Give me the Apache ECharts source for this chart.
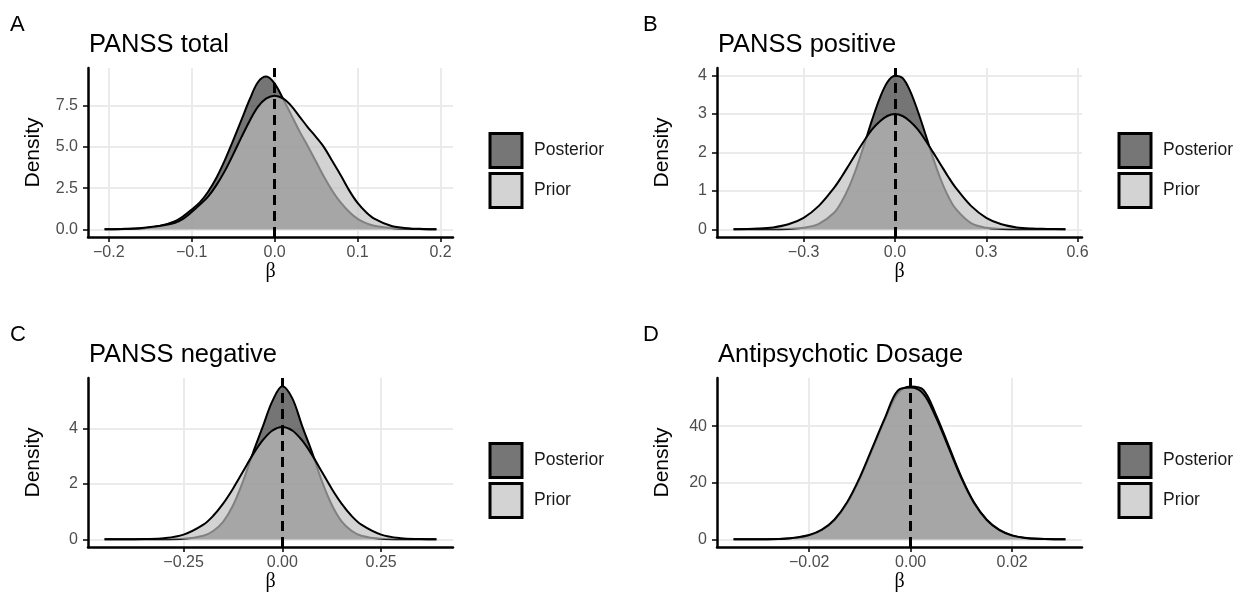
<!DOCTYPE html>
<html><head><meta charset="utf-8">
<script src="https://cdn.jsdelivr.net/npm/echarts@6/dist/echarts.min.js"></script>
<style>html,body{margin:0;padding:0;background:#fff;} #c{width:1246px;height:601px;}</style>
</head><body><div id="c"></div>
<script>
// ---------- data ----------
const panelLetters = ['A', 'B', 'C', 'D'];
const panelTitles = ['PANSS total', 'PANSS positive', 'PANSS negative', 'Antipsychotic Dosage'];
const seriesNames = ['Posterior', 'Prior'];
const xAxisTitle = 'β';
const yAxisTitle = 'Density';

// A: PANSS total
const aX = [-0.205,-0.18,-0.16,-0.14,-0.12,-0.11,-0.10,-0.09,-0.08,-0.07,-0.06,-0.05,-0.04,-0.03,-0.02,-0.01,0.00,0.01,0.02,0.03,0.04,0.05,0.06,0.07,0.08,0.09,0.10,0.11,0.12,0.14,0.16,0.18,0.195];
const aPost = [0.00,0.02,0.06,0.18,0.50,0.80,1.20,1.65,2.30,3.15,4.20,5.40,6.65,7.90,8.95,9.28,8.85,7.95,6.95,5.95,5.05,4.10,3.15,2.30,1.60,1.05,0.63,0.38,0.22,0.08,0.03,0.01,0.00];
const aPrior = [0.00,0.03,0.08,0.20,0.40,0.65,1.05,1.50,2.00,2.70,3.55,4.55,5.60,6.60,7.45,7.95,8.12,7.95,7.50,6.85,6.20,5.60,4.95,4.10,3.25,2.35,1.60,1.05,0.65,0.22,0.07,0.02,0.00];
const aXTicks = [-0.2, -0.1, 0, 0.1, 0.2];
const aXTickLabels = ['\u22120.2', '\u22120.1', '0.0', '0.1', '0.2'];
const aYTicks = [0, 2.5, 5, 7.5];
const aYTickLabels = ['0.0', '2.5', '5.0', '7.5'];

// B: PANSS positive
const bX = [-0.53,-0.45,-0.40,-0.35,-0.30,-0.25,-0.20,-0.175,-0.15,-0.125,-0.10,-0.075,-0.05,-0.025,0,0.025,0.05,0.075,0.10,0.125,0.15,0.175,0.20,0.25,0.30,0.35,0.40,0.45,0.50,0.56];
const bPost = [0,0,0,0.01,0.04,0.14,0.43,0.72,1.12,1.63,2.23,2.85,3.41,3.83,4.00,3.94,3.60,3.08,2.48,1.86,1.31,0.86,0.53,0.16,0.04,0.01,0,0,0,0];
const bPrior = [0.00,0.02,0.05,0.13,0.30,0.61,1.08,1.37,1.69,2.01,2.32,2.60,2.81,2.95,3.00,2.95,2.81,2.60,2.32,2.01,1.69,1.37,1.08,0.61,0.30,0.13,0.05,0.02,0.01,0.00];
const bXTicks = [-0.3, 0, 0.3, 0.6];
const bXTickLabels = ['\u22120.3', '0.0', '0.3', '0.6'];
const bYTicks = [0, 1, 2, 3, 4];
const bYTickLabels = ['0', '1', '2', '3', '4'];

// C: PANSS negative
const cX = [-0.45,-0.40,-0.35,-0.30,-0.25,-0.20,-0.175,-0.15,-0.125,-0.10,-0.075,-0.05,-0.025,0,0.025,0.05,0.075,0.10,0.125,0.15,0.175,0.20,0.25,0.30,0.35,0.39];
const cPost = [0,0,0,0.005,0.02,0.13,0.30,0.63,1.22,2.08,3.10,4.05,5.00,5.53,5.10,4.10,3.15,2.10,1.25,0.65,0.31,0.13,0.02,0.005,0,0];
const cPrior = [0.00,0.00,0.01,0.04,0.17,0.53,0.85,1.29,1.83,2.44,3.05,3.57,3.93,4.06,3.93,3.57,3.05,2.44,1.83,1.29,0.85,0.53,0.17,0.04,0.01,0.00];
const cXTicks = [-0.25, 0, 0.25];
const cXTickLabels = ['\u22120.25', '0.00', '0.25'];
const cYTicks = [0, 2, 4];
const cYTickLabels = ['0', '2', '4'];

// D: Antipsychotic Dosage
const dX = [-0.0349,-0.03,-0.025,-0.0225,-0.02,-0.0175,-0.015,-0.0125,-0.01,-0.0075,-0.005,-0.0025,0,0.0025,0.005,0.0075,0.01,0.0125,0.015,0.0175,0.02,0.0225,0.025,0.03,0.0305];
const dPost = [0,0.02,0.20,0.60,1.40,3.20,6.80,12.8,21.5,32.0,42.6,51.6,54.0,52.8,44.0,33.0,22.0,13.0,6.9,3.3,1.4,0.55,0.18,0.01,0];
const dPrior = [0,0.03,0.22,0.65,1.50,3.40,7.00,13.2,22.0,32.6,43.2,52.6,53.6,51.4,43.0,32.3,21.6,12.8,6.8,3.2,1.3,0.50,0.16,0.01,0];
const dXTicks = [-0.02, 0, 0.02];
const dXTickLabels = ['\u22120.02', '0.00', '0.02'];
const dYTicks = [0, 20, 40];
const dYTickLabels = ['0', '20', '40'];

// ---------- layout / style ----------
const panels = [
  {x: aX, post: aPost, prior: aPrior, xt: aXTicks, xl: aXTickLabels, yt: aYTicks, yl: aYTickLabels, xr: [-0.225, 0.215], yr: [-0.467, 9.8]},
  {x: bX, post: bPost, prior: bPrior, xt: bXTicks, xl: bXTickLabels, yt: bYTicks, yl: bYTickLabels, xr: [-0.5845, 0.6145], yr: [-0.2, 4.2]},
  {x: cX, post: cPost, prior: cPrior, xt: cXTicks, xl: cXTickLabels, yt: cYTicks, yl: cYTickLabels, xr: [-0.492, 0.432], yr: [-0.2775, 5.8275]},
  {x: dX, post: dPost, prior: dPrior, xt: dXTicks, xl: dXTickLabels, yt: dYTicks, yl: dYTickLabels, xr: [-0.03817, 0.03377], yr: [-2.715, 57.0]}
];
const gridPos = [
  {left: 88, top: 68}, {left: 717, top: 68}, {left: 88, top: 378}, {left: 717, top: 378}
];
const GW = 365, GH = 169;
const SANS = "'Liberation Sans', Arial, Helvetica, sans-serif";
const POST_FILL = 'rgba(51,51,51,0.68)';
const PRIOR_FILL = 'rgba(190,190,190,0.68)';

function labelFor(ticks, labels) {
  return function (v) {
    for (let i = 0; i < ticks.length; i++) if (Math.abs(v - ticks[i]) < 1e-9) return labels[i];
    return '';
  };
}

const option = {
  backgroundColor: '#fff',
  animation: false,
  title: [],
  grid: [],
  xAxis: [],
  yAxis: [],
  legend: [],
  series: []
};

panels.forEach((p, i) => {
  const g = gridPos[i];
  option.grid.push({left: g.left, top: g.top, width: GW, height: GH, containLabel: false});
  option.title.push({
    text: panelLetters[i], left: g.left - (i % 2 === 0 ? 78 : 74), top: g.top - 54,
    padding: 0, textStyle: {fontFamily: SANS, fontSize: 22, fontWeight: 'normal', color: '#000'}
  });
  option.title.push({
    text: panelTitles[i], left: g.left + 1, top: g.top - 36,
    padding: 0, textStyle: {fontFamily: SANS, fontSize: 25.5, fontWeight: 'normal', color: '#000'}
  });
  option.xAxis.push({
    type: 'value', gridIndex: i, min: p.xr[0], max: p.xr[1],
    name: xAxisTitle, nameLocation: 'middle', nameGap: 23,
    nameTextStyle: {fontFamily: "'Liberation Serif', 'DejaVu Serif', serif", fontSize: 20, color: '#000'},
    axisLine: {show: true, onZero: false, lineStyle: {color: '#000', width: 2.5}},
    axisTick: {show: true, length: 5, customValues: p.xt, lineStyle: {color: '#000', width: 1.5}},
    axisLabel: {show: true, margin: 8, customValues: p.xt, formatter: labelFor(p.xt, p.xl),
      fontFamily: SANS, fontSize: 16, color: '#4d4d4d'},
    splitLine: {show: true, lineStyle: {color: '#ebebeb', width: 2}}
  });
  option.yAxis.push({
    type: 'value', gridIndex: i, min: p.yr[0], max: p.yr[1],
    name: yAxisTitle, nameLocation: 'middle', nameGap: 44,
    nameTextStyle: {fontFamily: SANS, fontSize: 21, color: '#000'},
    axisLine: {show: true, onZero: false, lineStyle: {color: '#000', width: 2.5}},
    axisTick: {show: true, length: 5, customValues: p.yt, lineStyle: {color: '#000', width: 1.5}},
    axisLabel: {show: true, margin: 10, customValues: p.yt, formatter: labelFor(p.yt, p.yl),
      fontFamily: SANS, fontSize: 16, color: '#4d4d4d'},
    splitLine: {show: true, lineStyle: {color: '#ebebeb', width: 2}}
  });
  option.legend.push({
    left: g.left + 400.5, top: g.top + 64, orient: 'vertical', padding: 0,
    itemGap: 3, itemWidth: 32, itemHeight: 34, icon: 'rect', selectedMode: false,
    itemStyle: {borderColor: '#000', borderWidth: 3},
    data: [
      {name: seriesNames[0], itemStyle: {color: '#767676', borderColor: '#000', borderWidth: 3}},
      {name: seriesNames[1], itemStyle: {color: '#d3d3d3', borderColor: '#000', borderWidth: 3}}
    ],
    textStyle: {fontFamily: SANS, fontSize: 17.5, color: '#1a1a1a', padding: [0, 0, 0, 7]}
  });
  option.series.push({
    type: 'line', name: seriesNames[0], xAxisIndex: i, yAxisIndex: i, z: 2,
    data: p.x.map((x, k) => [x, p.post[k]]),
    smooth: 0.35, symbol: 'none', showSymbol: false, silent: true,
    itemStyle: {color: '#333'},
    lineStyle: {color: '#000', width: 2},
    areaStyle: {color: POST_FILL, opacity: 1}
  });
  option.series.push({
    type: 'line', name: seriesNames[1], xAxisIndex: i, yAxisIndex: i, z: 3,
    data: p.x.map((x, k) => [x, p.prior[k]]),
    smooth: 0.35, symbol: 'none', showSymbol: false, silent: true,
    itemStyle: {color: '#bebebe'},
    lineStyle: {color: '#000', width: 2},
    areaStyle: {color: PRIOR_FILL, opacity: 1},
    markLine: {
      silent: true, symbol: ['none', 'none'], z: 6, label: {show: false},
      lineStyle: {color: '#000', type: [10, 6], width: 3},
      emphasis: {disabled: true},
      data: [{xAxis: 0}]
    }
  });
});

const chart = echarts.init(document.getElementById('c'), null, {renderer: 'canvas'});
chart.setOption(option);
</script>
</body></html>
